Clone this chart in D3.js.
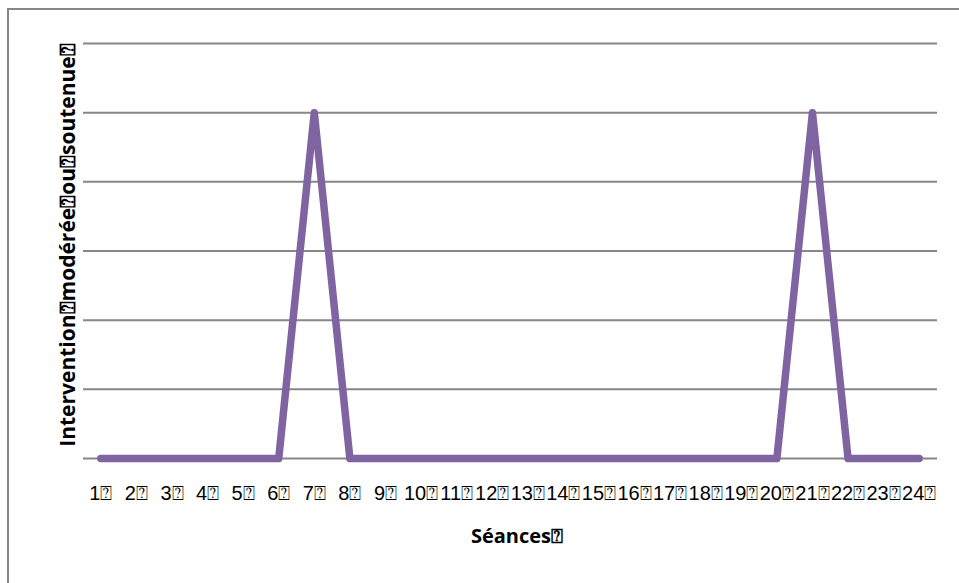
<!DOCTYPE html>
<html>
<head>
<meta charset="utf-8">
<script src="https://cdn.jsdelivr.net/npm/d3@7"></script>
<style>
  html, body { margin: 0; padding: 0; background: #fff; }
  svg { display: block; }
</style>
</head>
<body>
<div id="chart"></div>
<script>
// ---- data ----
const categories = ["1","2","3","4","5","6","7","8","9","10","11","12","13","14","15","16","17","18","19","20","21","22","23","24"];
const values = [0,0,0,0,0,0,5,0,0,0,0,0,0,0,0,0,0,0,0,0,5,0,0,0];
const yTicks = [0,1,2,3,4,5,6];
const tofu = "\u2370";
const xTitle = "Séances" + tofu;
const yTitle = "Intervention" + tofu + "modérée" + tofu + "ou" + tofu + "soutenue" + tofu;

const W = 959, H = 583;
const margin = { left: 83, right: 22, top: 43.5, bottom: 124.5 };

const svg = d3.select("#chart").append("svg").attr("width", W).attr("height", H);

// outer border (extends past right/bottom edge)
svg.append("rect")
  .attr("x", 8).attr("y", 9).attr("width", W + 20).attr("height", H + 20)
  .attr("fill", "none").attr("stroke", "#878787").attr("stroke-width", 2);

const x = d3.scaleBand().domain(categories).range([margin.left, W - margin.right]);
const y = d3.scaleLinear().domain([0, 6]).range([H - margin.bottom, margin.top]);

// gridlines
svg.append("g").selectAll("line").data(yTicks).join("line")
  .attr("x1", margin.left).attr("x2", W - margin.right)
  .attr("y1", d => y(d)).attr("y2", d => y(d))
  .attr("stroke", "#878787").attr("stroke-width", 2);

// x axis labels
const xAxis = d3.axisBottom(x).tickSize(0).tickPadding(0).tickFormat(d => d + tofu);
const gx = svg.append("g").attr("transform", `translate(0,${y(0) + 27})`).call(xAxis);
gx.select(".domain").remove();
gx.selectAll("text")
  .attr("font-family", "'Liberation Sans', sans-serif")
  .attr("font-size", 20).attr("fill", "#000");

// line
const line = d3.line().x((d, i) => x(categories[i]) + x.bandwidth() / 2).y(d => y(d));
svg.append("path").datum(values)
  .attr("d", line)
  .attr("fill", "none").attr("stroke", "#8064A2").attr("stroke-width", 7.5)
  .attr("stroke-linejoin", "round").attr("stroke-linecap", "round");

// axis titles
svg.append("text")
  .attr("x", 517).attr("y", 543)
  .attr("text-anchor", "middle")
  .attr("font-family", "'Open Sans', sans-serif").attr("font-weight", "bold")
  .attr("font-size", 20).text(xTitle);

svg.append("text")
  .attr("transform", `translate(75,${(margin.top + H - margin.bottom) / 2 - 6}) rotate(-90)`)
  .attr("text-anchor", "middle")
  .attr("font-family", "'Open Sans', sans-serif").attr("font-weight", "bold")
  .attr("font-size", 21).text(yTitle);
</script>
</body>
</html>
